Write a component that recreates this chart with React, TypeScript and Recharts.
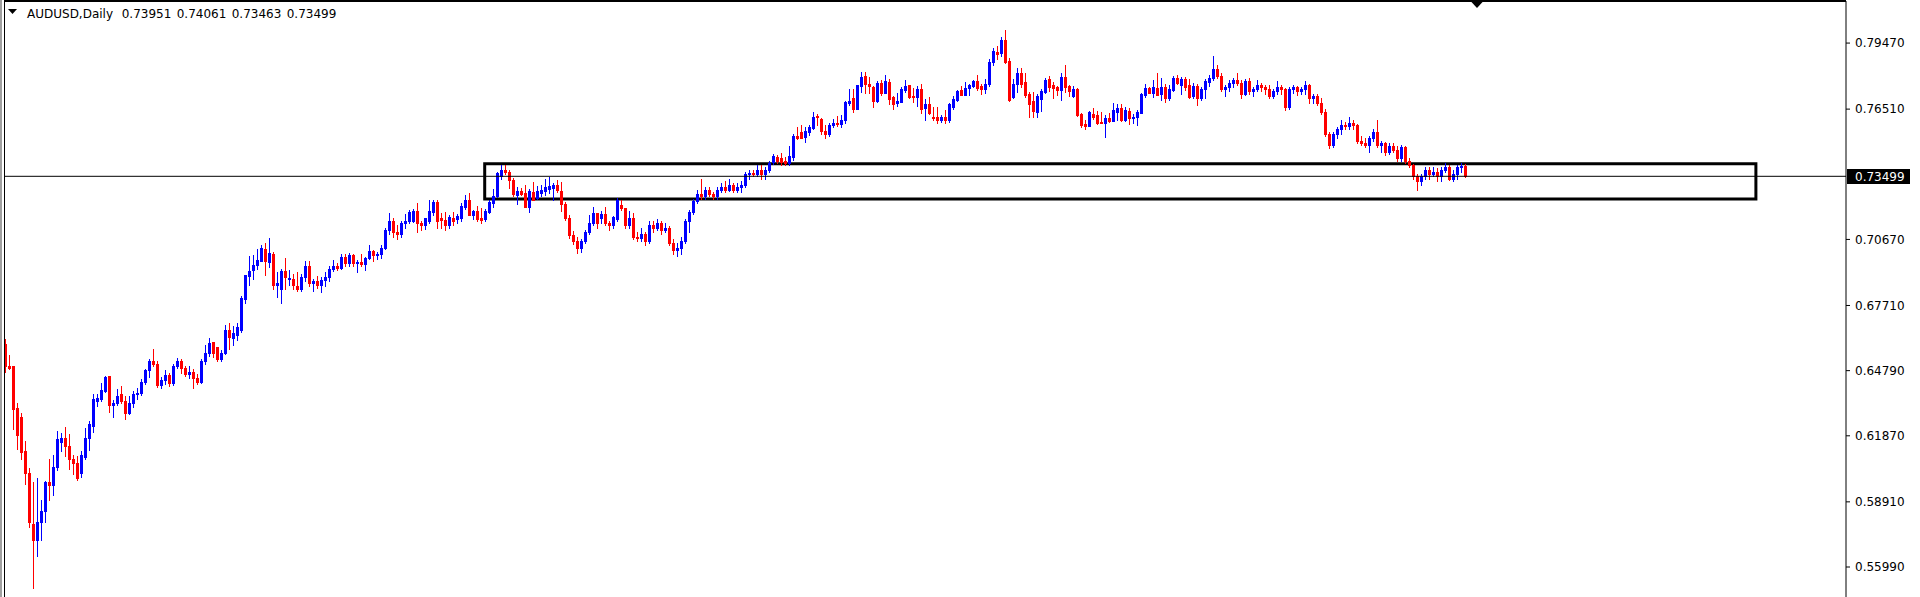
import React from 'react';
import { ComposedChart, Bar, XAxis, YAxis, ReferenceLine, ReferenceArea } from 'recharts';

type OHLC = [number, number, number, number];

// [open, high, low, close] per daily candle
const MAR_JUN_2020: OHLC[] = [
  [.6598,.6621,.6471,.6498],[.6501,.6549,.6486,.6491],[.6501,.6501,.6219,.6306],[.6310,.6336,.6130,.6190],
  [.6270,.6291,.6084,.6114],[.6117,.6162,.5972,.6021],[.6021,.6041,.5780,.5800],[.5790,.5979,.5506,.5720],
  [.5720,.5999,.5650,.5800],[.5800,.5900,.5720,.5850],[.5850,.5985,.5800,.5981],[.5981,.6085,.5900,.5965],
  [.5965,.6100,.5920,.6048],[.6048,.6210,.6033,.6174],[.6159,.6198,.6118,.6175],[.6175,.6225,.6096,.6141],
  [.6141,.6193,.6040,.6084],[.6084,.6103,.6016,.6066],[.6066,.6096,.5988,.5997],[.6019,.6117,.6001,.6099],
  [.6090,.6220,.6084,.6178],[.6177,.6255,.6124,.6238],[.6231,.6373,.6204,.6351],[.6345,.6376,.6319,.6355],
  [.6354,.6423,.6343,.6391],[.6387,.6456,.6384,.6451],[.6454,.6454,.6294,.6325],[.6325,.6348,.6273,.6336],
  [.6336,.6396,.6327,.6367],[.6373,.6409,.6336,.6343],[.6343,.6366,.6261,.6291],[.6288,.6366,.6283,.6333],
  [.6333,.6390,.6315,.6375],[.6375,.6400,.6350,.6380],[.6380,.6440,.6370,.6430],[.6430,.6485,.6420,.6480],
  [.6480,.6530,.6450,.6520],[.6520,.6575,.6500,.6510],[.6510,.6520,.6405,.6415],[.6415,.6450,.6400,.6435],
  [.6435,.6480,.6420,.6460],[.6460,.6470,.6410,.6425],[.6425,.6510,.6415,.6500],[.6500,.6535,.6490,.6520],
  [.6520,.6530,.6470,.6490],[.6490,.6500,.6455,.6465],[.6465,.6500,.6445,.6475],[.6475,.6485,.6400,.6445],
  [.6445,.6465,.6420,.6430],[.6430,.6530,.6425,.6520],[.6520,.6594,.6510,.6560],[.6560,.6625,.6545,.6605],
  [.6607,.6607,.6540,.6560],[.6583,.6583,.6520,.6530],[.6530,.6570,.6520,.6560],[.6560,.6685,.6555,.6662],
  [.6662,.6693,.6576,.6631],[.6627,.6679,.6595,.6648],[.6640,.6693,.6618,.6675],[.6661,.6814,.6652,.6805],
  [.6802,.6909,.6784,.6906],[.6901,.6994,.6865,.6927],[.6928,.6999,.6888,.6954],[.6951,.7023,.6936,.6976],
  [.6970,.7041,.6970,.7030],[.7026,.7053,.6906,.6970],[.6964,.7075,.6942,.7008],[.7003,.7012,.6847,.6861],
  [.6861,.6922,.6807,.6873],[.6847,.6936,.6784,.6927],[.6927,.6985,.6843,.6897],[.6888,.6931,.6861,.6895],
  [.6891,.6913,.6843,.6861],[.6859,.6922,.6838,.6843],
];

const JUN_SEP_2020: OHLC[] = [
  [.6843,.6910,.6835,.6900],[.6900,.6970,.6880,.6950],[.6950,.6970,.6860,.6870],[.6870,.6890,.6835,.6880],
  [.6880,.6905,.6850,.6865],[.6865,.6900,.6830,.6885],[.6885,.6920,.6860,.6900],[.6900,.6950,.6880,.6935],
  [.6935,.6975,.6925,.6950],[.6950,.6960,.6930,.6940],[.6940,.7000,.6935,.6990],[.6990,.7000,.6950,.6960],
  [.6960,.7005,.6950,.6995],[.6995,.7000,.6950,.6960],[.6960,.6975,.6920,.6965],[.6965,.7000,.6950,.6955],
  [.6955,.6990,.6930,.6985],[.6985,.7040,.6980,.7015],[.7015,.7020,.6970,.6995],[.6995,.7010,.6980,.7000],
  [.7000,.7040,.6985,.7030],[.7030,.7120,.7025,.7110],[.7110,.7184,.7090,.7150],[.7150,.7161,.7080,.7100],
  [.7100,.7130,.7070,.7090],[.7090,.7150,.7080,.7140],[.7140,.7179,.7120,.7150],[.7150,.7199,.7140,.7190],
  [.7150,.7202,.7145,.7196],[.7194,.7230,.7100,.7140],[.7140,.7150,.7110,.7130],[.7130,.7165,.7115,.7163],
  [.7150,.7243,.7140,.7194],[.7191,.7243,.7176,.7236],[.7236,.7243,.7120,.7150],[.7163,.7187,.7120,.7155],
  [.7155,.7191,.7110,.7130],[.7130,.7176,.7120,.7166],[.7163,.7191,.7130,.7150],[.7158,.7179,.7140,.7173],
  [.7164,.7229,.7150,.7217],[.7214,.7266,.7202,.7243],[.7243,.7276,.7176,.7176],[.7176,.7199,.7160,.7194],
  [.7194,.7217,.7150,.7158],[.7163,.7206,.7140,.7154],[.7157,.7202,.7150,.7196],[.7191,.7243,.7187,.7236],
  [.7229,.7293,.7214,.7261],[.7261,.7370,.7258,.7363],[.7351,.7400,.7339,.7378],[.7378,.7400,.7358,.7367],
  [.7369,.7380,.7297,.7335],[.7333,.7342,.7261,.7270],[.7266,.7303,.7224,.7284],[.7284,.7297,.7266,.7270],
  [.7276,.7309,.7211,.7214],[.7214,.7291,.7191,.7284],[.7279,.7324,.7243,.7243],[.7251,.7306,.7248,.7284],
  [.7273,.7309,.7261,.7288],[.7284,.7340,.7264,.7303],[.7291,.7348,.7273,.7306],[.7299,.7318,.7243,.7311],
  [.7311,.7333,.7281,.7288],[.7285,.7324,.7196,.7224],[.7225,.7236,.7154,.7164],
];

const SEP_DEC_2020: OHLC[] = [
  [.7164,.7175,.7075,.7085],[.7085,.7105,.7045,.7060],[.7060,.7080,.7006,.7030],[.7030,.7070,.7010,.7060],
  [.7060,.7110,.7050,.7100],[.7100,.7176,.7090,.7140],[.7140,.7211,.7130,.7184],[.7184,.7184,.7120,.7140],
  [.7164,.7194,.7140,.7179],[.7179,.7211,.7130,.7140],[.7140,.7150,.7110,.7130],[.7130,.7170,.7120,.7166],
  [.7160,.7251,.7150,.7243],[.7221,.7243,.7200,.7206],[.7206,.7210,.7120,.7130],[.7130,.7194,.7120,.7161],
  [.7163,.7184,.7070,.7080],[.7080,.7100,.7060,.7075],[.7075,.7120,.7060,.7090],[.7090,.7100,.7040,.7060],
  [.7060,.7150,.7050,.7130],[.7130,.7150,.7100,.7120],[.7120,.7158,.7110,.7140],[.7140,.7150,.7090,.7110],
  [.7110,.7140,.7100,.7120],[.7120,.7125,.7040,.7050],[.7050,.7070,.7000,.7020],[.7020,.7050,.6991,.7030],
  [.7030,.7080,.7000,.7060],[.7060,.7160,.7050,.7150],[.7150,.7200,.7100,.7190],[.7190,.7250,.7180,.7240],
  [.7240,.7290,.7230,.7270],[.7270,.7340,.7250,.7260],[.7260,.7300,.7250,.7290],[.7290,.7300,.7260,.7270],
  [.7270,.7280,.7250,.7260],[.7260,.7300,.7250,.7290],[.7290,.7320,.7280,.7300],[.7300,.7330,.7280,.7290],
  [.7290,.7340,.7285,.7310],[.7310,.7320,.7280,.7290],[.7290,.7320,.7280,.7300],[.7300,.7330,.7280,.7310],
  [.7310,.7370,.7300,.7360],[.7360,.7380,.7340,.7365],[.7365,.7380,.7350,.7360],[.7360,.7400,.7350,.7380],
  [.7380,.7400,.7340,.7360],[.7360,.7390,.7340,.7380],[.7380,.7420,.7370,.7410],[.7415,.7450,.7405,.7441],
  [.7436,.7445,.7410,.7420],[.7432,.7454,.7400,.7415],[.7420,.7436,.7400,.7410],[.7410,.7486,.7400,.7441],
  [.7438,.7539,.7423,.7531],[.7531,.7571,.7517,.7522],[.7548,.7580,.7522,.7522],[.7526,.7571,.7504,.7553],
  [.7548,.7580,.7535,.7571],[.7566,.7638,.7562,.7616],[.7620,.7629,.7580,.7617],[.7605,.7610,.7540,.7555],
  [.7555,.7580,.7520,.7540],[.7540,.7590,.7530,.7580],[.7580,.7606,.7570,.7590],[.7590,.7620,.7575,.7585],
  [.7585,.7624,.7570,.7602],
];

const DEC_APR_2021: OHLC[] = [
  [.7602,.7687,.7590,.7684],[.7679,.7739,.7669,.7687],[.7700,.7741,.7639,.7653],[.7653,.7759,.7653,.7759],
  [.7756,.7818,.7729,.7794],[.7799,.7818,.7721,.7762],[.7763,.7796,.7721,.7754],[.7750,.7754,.7662,.7688],
  [.7687,.7777,.7684,.7768],[.7768,.7781,.7715,.7723],[.7723,.7803,.7723,.7777],[.7772,.7787,.7674,.7697],
  [.7706,.7711,.7653,.7672],[.7677,.7721,.7666,.7687],[.7684,.7751,.7684,.7741],[.7736,.7781,.7726,.7754],
  [.7759,.7759,.7700,.7706],[.7709,.7745,.7681,.7706],[.7706,.7754,.7666,.7741],[.7741,.7763,.7635,.7653],
  [.7657,.7696,.7602,.7674],[.7674,.7705,.7629,.7635],[.7615,.7660,.7602,.7609],[.7615,.7660,.7590,.7602],
  [.7602,.7624,.7595,.7615],[.7615,.7647,.7590,.7602],[.7602,.7679,.7595,.7674],[.7662,.7711,.7650,.7696],
  [.7693,.7736,.7688,.7732],[.7736,.7756,.7714,.7715],[.7715,.7772,.7714,.7745],[.7747,.7763,.7715,.7759],
  [.7754,.7781,.7751,.7777],[.7777,.7803,.7736,.7747],[.7754,.7762,.7720,.7741],[.7741,.7786,.7723,.7763],
  [.7765,.7875,.7754,.7862],[.7862,.7925,.7850,.7910],[.7907,.7933,.7877,.7899],[.7904,.7975,.7889,.7962],
  [.7962,.8007,.7859,.7864],[.7867,.7879,.7688,.7691],[.7704,.7786,.7701,.7764],[.7765,.7836,.7726,.7813],
  [.7813,.7836,.7752,.7764],[.7773,.7813,.7704,.7714],[.7719,.7728,.7616,.7674],[.7688,.7726,.7617,.7643],
  [.7638,.7719,.7617,.7710],[.7697,.7741,.7643,.7732],[.7726,.7789,.7722,.7782],[.7786,.7800,.7732,.7752],
  [.7759,.7773,.7701,.7747],[.7750,.7755,.7713,.7737],[.7738,.7812,.7694,.7795],[.7795,.7849,.7729,.7752],
  [.7755,.7761,.7711,.7732],[.7710,.7755,.7707,.7741],[.7741,.7744,.7620,.7625],[.7629,.7635,.7570,.7580],
  [.7585,.7602,.7561,.7576],[.7576,.7643,.7576,.7638],[.7629,.7655,.7608,.7617],[.7625,.7643,.7585,.7589],
  [.7595,.7638,.7588,.7588],[.7590,.7625,.7526,.7613],[.7611,.7635,.7595,.7598],[.7599,.7677,.7598,.7646],
  [.7640,.7674,.7602,.7658],[.7656,.7674,.7599,.7602],[.7602,.7662,.7599,.7647],[.7643,.7655,.7585,.7613],
  [.7613,.7629,.7588,.7616],[.7617,.7647,.7580,.7640],[.7635,.7722,.7632,.7719],[.7716,.7762,.7707,.7746],
  [.7746,.7752,.7722,.7725],[.7725,.7781,.7707,.7750],[.7746,.7815,.7716,.7716],
];

const APR_AUG_2021: OHLC[] = [
  [.7718,.7790,.7691,.7750],[.7750,.7763,.7684,.7703],[.7699,.7759,.7691,.7741],[.7736,.7800,.7733,.7790],
  [.7790,.7802,.7765,.7769],[.7759,.7795,.7718,.7785],[.7785,.7795,.7736,.7748],[.7759,.7785,.7703,.7706],
  [.7712,.7766,.7703,.7754],[.7754,.7763,.7669,.7699],[.7699,.7751,.7691,.7741],[.7741,.7785,.7699,.7775],
  [.7774,.7805,.7756,.7790],[.7790,.7891,.7780,.7830],[.7830,.7850,.7790,.7800],[.7800,.7815,.7730,.7740],
  [.7740,.7760,.7710,.7750],[.7750,.7780,.7730,.7770],[.7770,.7790,.7750,.7780],[.7780,.7815,.7760,.7770],
  [.7770,.7780,.7700,.7720],[.7720,.7785,.7715,.7775],[.7775,.7790,.7720,.7730],[.7730,.7750,.7710,.7740],
  [.7740,.7780,.7730,.7760],[.7760,.7770,.7730,.7750],[.7750,.7760,.7720,.7740],[.7740,.7760,.7700,.7710],
  [.7710,.7740,.7700,.7730],[.7730,.7775,.7720,.7750],[.7750,.7760,.7720,.7740],[.7740,.7745,.7645,.7660],
  [.7660,.7750,.7650,.7740],[.7740,.7760,.7725,.7750],[.7750,.7755,.7715,.7730],[.7730,.7750,.7720,.7740],
  [.7740,.7775,.7720,.7760],[.7760,.7765,.7680,.7700],[.7700,.7720,.7680,.7710],[.7710,.7720,.7670,.7680],
  [.7680,.7700,.7630,.7640],[.7640,.7650,.7530,.7540],[.7540,.7550,.7477,.7490],[.7490,.7550,.7480,.7540],
  [.7540,.7570,.7520,.7560],[.7560,.7600,.7540,.7580],[.7580,.7595,.7560,.7575],[.7575,.7615,.7560,.7590],
  [.7590,.7600,.7560,.7580],[.7580,.7585,.7500,.7510],[.7510,.7530,.7490,.7500],[.7500,.7520,.7480,.7490],
  [.7490,.7530,.7460,.7520],[.7520,.7560,.7510,.7550],[.7550,.7600,.7480,.7490],[.7490,.7510,.7460,.7500],
  [.7500,.7505,.7445,.7460],[.7460,.7500,.7450,.7485],[.7485,.7500,.7460,.7470],[.7470,.7485,.7420,.7430],
  [.7430,.7490,.7420,.7480],[.7480,.7485,.7410,.7420],[.7420,.7430,.7390,.7400],[.7400,.7405,.7340,.7350],
  [.7350,.7360,.7290,.7330],[.7330,.7360,.7310,.7350],[.7350,.7390,.7340,.7380],[.7380,.7390,.7340,.7360],
  [.7360,.7390,.7350,.7370],[.7370,.7385,.7330,.7350],[.7350,.7390,.7330,.7380],[.7380,.7410,.7370,.7390],
  [.7390,.7400,.7335,.7340],[.7340,.7380,.7330,.7360],[.7360,.7400,.7340,.7390],[.7390,.7410,.7370,.7395],
  [.73951,.74061,.73463,.73499],
];

const CANDLES: OHLC[] = [...MAR_JUN_2020, ...JUN_SEP_2020, ...SEP_DEC_2020, ...DEC_APR_2021, ...APR_AUG_2021];

const PRICE_TICKS = [0.7947, 0.7651, 0.7067, 0.6771, 0.6479, 0.6187, 0.5891, 0.5599];
const SYMBOL = 'AUDUSD,Daily';
const HEADER_VALUES = ['0.73951', '0.74061', '0.73463', '0.73499'];
const LAST_PRICE = 0.73499;
// rectangle object drawn on the chart: bar-index and price anchors
const BOX_X = [119.8, 437.6];
const BOX_Y = [0.7248, 0.7406];
const CHART_SHIFT_INDEX = 367.75;

const data = CANDLES.map(([o, h, l, c], i) => ({ i, o, h, l, c, range: [l, h] }));

const W = 1920;
const H = 597;
const FONT = '"DejaVu Sans", sans-serif';

function Candle(props: any) {
  const { x, y, width, height, payload } = props;
  if (!payload || !isFinite(y) || !isFinite(height)) return null;
  const { o, h, l, c } = payload;
  const top = Math.min(y, y + height);
  const bot = Math.max(y, y + height);
  const yOf = (p: number) => (h === l ? top : top + ((h - p) / (h - l)) * (bot - top));
  const cx = Math.floor(x + width / 2 + 0.01);
  const up = c >= o;
  const col = up ? '#0000ff' : '#ff0000';
  const wt = Math.round(top);
  const wb = Math.round(bot);
  const bt = Math.round(yOf(Math.max(o, c)));
  const bb = Math.round(yOf(Math.min(o, c)));
  return (
    <g shapeRendering="crispEdges">
      <rect x={cx} y={wt} width={1} height={Math.max(1, wb - wt + 1)} fill={col} />
      <rect x={cx - 1} y={bt} width={3} height={Math.max(1, bb - bt + 1)} fill={col} />
    </g>
  );
}

function PriceTag(props: any) {
  const vb = props.viewBox || {};
  const yy = Math.round(vb.y);
  const x0 = vb.x + vb.width + 1;
  return (
    <g>
      <rect x={x0} y={yy - 7} width={63} height={15} fill="#000" />
      <text x={x0 + 8} y={yy + 4.5} fill="#fff" fontSize={12} fontFamily={FONT}>
        {LAST_PRICE.toFixed(5)}
      </text>
    </g>
  );
}

export default function App() {
  return (
    <div style={{ position: 'absolute', left: 0, top: 0, width: W, height: H, background: '#fff' }}>
      <ComposedChart width={W} height={H} data={data} margin={{ top: 1, right: 0, bottom: 0, left: 4 }}>
        <XAxis dataKey="i" type="number" domain={[-0.375, 460.125]} allowDataOverflow hide />
        <YAxis
          orientation="right"
          type="number"
          width={74}
          domain={[0.54646, 0.81355]}
          allowDataOverflow
          ticks={PRICE_TICKS}
          interval={0}
          tickFormatter={(v: number) => v.toFixed(5)}
          tick={{ fill: '#000', fontSize: 12, fontFamily: FONT }}
          tickSize={4}
          tickMargin={5}
          tickLine={{ stroke: '#000' }}
          axisLine={{ stroke: '#000' }}
        />
        <Bar dataKey="range" barSize={3} isAnimationActive={false} shape={<Candle />} />
        <ReferenceLine y={LAST_PRICE} stroke="#000" strokeWidth={1} label={<PriceTag />} />
        <ReferenceArea
          x1={BOX_X[0]}
          x2={BOX_X[1]}
          y1={BOX_Y[0]}
          y2={BOX_Y[1]}
          fill="none"
          fillOpacity={0}
          stroke="#000"
          strokeWidth={3}
          ifOverflow="visible"
        />
        <ReferenceLine
          x={CHART_SHIFT_INDEX}
          stroke="none"
          label={(p: any) => {
            const vb = p.viewBox || {};
            const cx = vb.x;
            return <polygon points={`${cx - 6},1 ${cx + 7},1 ${cx + 0.5},8`} fill="#000" />;
          }}
        />
      </ComposedChart>
      <svg width={W} height={H} style={{ position: 'absolute', left: 0, top: 0, pointerEvents: 'none' }}>
        <rect x={0} y={0} width={2} height={H} fill="#a0a0a0" />
        <rect x={4} y={0} width={1} height={H} fill="#000" />
        <rect x={4} y={0} width={1842} height={2} fill="#000" />
        <polygon points="8,9 17,9 12.5,14" fill="#000" />
        <text x={27} y={17.5} fontSize={12} fontFamily={FONT} fill="#000">{SYMBOL}</text>
        {HEADER_VALUES.map((v, k) => (
          <text key={k} x={121.7 + k * 55} y={17.5} fontSize={12} fontFamily={FONT} fill="#000">{v}</text>
        ))}
      </svg>
    </div>
  );
}
